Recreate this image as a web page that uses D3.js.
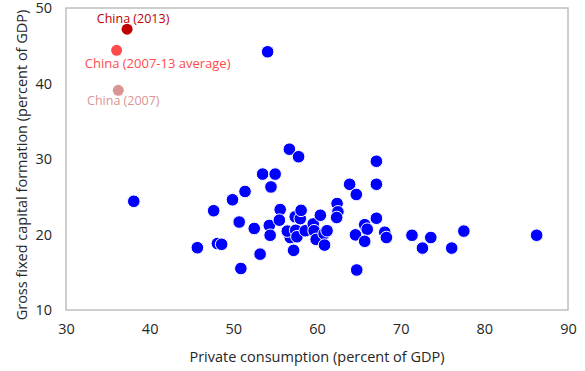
<!DOCTYPE html>
<html>
<head>
<meta charset="utf-8">
<script src="https://cdn.jsdelivr.net/npm/d3@7"></script>
<style>
  html, body { margin: 0; padding: 0; background: #fff; }
  text { font-family: "Open Sans", "Noto Sans", sans-serif; }
</style>
</head>
<body>
<svg id="chart" width="585" height="371"></svg>
<script>
// Other economies: private consumption (x) vs gross fixed capital formation (y), percent of GDP
const consumption = [38.1, 54.1, 45.7, 47.65, 48.1, 48.6, 49.9, 50.7, 50.9, 51.4,
  52.5, 53.2, 53.5, 55.0, 54.5, 54.3, 54.4, 55.6, 55.5, 56.7,
  57.8, 57.2, 56.8, 56.45, 57.45, 57.6, 57.4, 58.0, 58.1, 58.6,
  59.55, 59.65, 59.9, 60.4, 60.85, 61.2, 60.9, 62.4, 62.5, 62.35,
  63.9, 64.7, 67.1, 67.1, 67.1, 65.7, 66.0, 64.6, 65.7, 68.1,
  68.3, 64.75, 71.35, 72.6, 73.6, 76.1, 77.55, 86.25];
const investment = [24.4, 44.2, 18.25, 23.15, 18.8, 18.7, 24.6, 21.65, 15.5, 25.7,
  20.8, 17.4, 28.0, 28.0, 26.3, 21.2, 19.9, 23.3, 21.9, 31.3,
  30.3, 17.9, 19.6, 20.45, 20.55, 19.7, 22.35, 22.1, 23.2, 20.5,
  21.4, 20.5, 19.35, 22.55, 20.1, 20.5, 18.6, 24.1, 23.0, 22.25,
  26.65, 25.3, 29.7, 26.65, 22.15, 21.3, 20.7, 19.95, 19.1, 20.3,
  19.6, 15.3, 19.9, 18.2, 19.6, 18.2, 20.45, 19.9];

// China highlights
const chinaLabels = ["China (2013)", "China (2007-13  average)", "China (2007)"];
const chinaX = [37.3, 36.05, 36.25];
const chinaY = [47.2, 44.4, 39.1];
const chinaColors = ["#c00000", "#ff4b4b", "#d99594"];

const xTicks = [30, 40, 50, 60, 70, 80, 90];
const yTicks = [10, 20, 30, 40, 50];

const svg = d3.select("#chart");
const mLeft = 66, mRight = 568, mTop = 8, mBottom = 310;

const x = d3.scaleLinear().domain([30, 90]).range([mLeft, mRight]);
const y = d3.scaleLinear().domain([10, 50]).range([mBottom, mTop]);

// plot frame
svg.append("rect")
  .attr("x", mLeft).attr("y", mTop)
  .attr("width", mRight - mLeft).attr("height", mBottom - mTop)
  .attr("fill", "none").attr("stroke", "#bfbfbf").attr("stroke-width", 1.5);

// axes
const xAxis = svg.append("g").attr("transform", `translate(0,${mBottom})`)
  .call(d3.axisBottom(x).tickValues(xTicks).tickSize(0).tickPadding(14));
const yAxis = svg.append("g").attr("transform", `translate(${mLeft},0)`)
  .call(d3.axisLeft(y).tickValues(yTicks).tickSize(0).tickPadding(14));
[xAxis, yAxis].forEach(g => {
  g.select(".domain").remove();
  g.selectAll("text").attr("font-size", 14.5).attr("fill", "#262626")
    .attr("font-family", "'Open Sans', 'Noto Sans', sans-serif");
});

// axis titles
svg.append("text")
  .attr("x", (mLeft + mRight) / 2).attr("y", 362)
  .attr("text-anchor", "middle").attr("font-size", 14.5).attr("fill", "#262626")
  .text("Private consumption (percent of GDP)");
svg.append("text")
  .attr("transform", `translate(27,${(mTop + mBottom) / 2 + 6}) rotate(-90)`)
  .attr("text-anchor", "middle").attr("font-size", 14.5).attr("fill", "#262626")
  .text("Gross fixed capital formation (percent of GDP)");

// other countries
svg.append("g").selectAll("circle")
  .data(consumption.map((c, i) => [c, investment[i]]))
  .join("circle")
  .attr("cx", d => x(d[0])).attr("cy", d => y(d[1]))
  .attr("r", 6.3)
  .attr("fill", "#0000ff").attr("stroke", "#ffffff").attr("stroke-width", 1);

// China points
const china = chinaLabels.map((l, i) => ({ label: l, x: chinaX[i], y: chinaY[i], color: chinaColors[i] }));
svg.append("g").selectAll("circle")
  .data(china).join("circle")
  .attr("cx", d => x(d.x)).attr("cy", d => y(d.y))
  .attr("r", 5.5).attr("fill", d => d.color);

// China labels (offsets relative to each point)
const labelOffsets = [[6, -6], [41, 18], [5, 15]];
const labelSizes = [12.5, 13, 12.5];
svg.append("g").selectAll("text")
  .data(china).join("text")
  .attr("x", (d, i) => x(d.x) + labelOffsets[i][0])
  .attr("y", (d, i) => y(d.y) + labelOffsets[i][1])
  .attr("text-anchor", "middle").attr("font-size", (d, i) => labelSizes[i])
  .attr("fill", d => d.color)
  .text(d => d.label);
</script>
</body>
</html>
